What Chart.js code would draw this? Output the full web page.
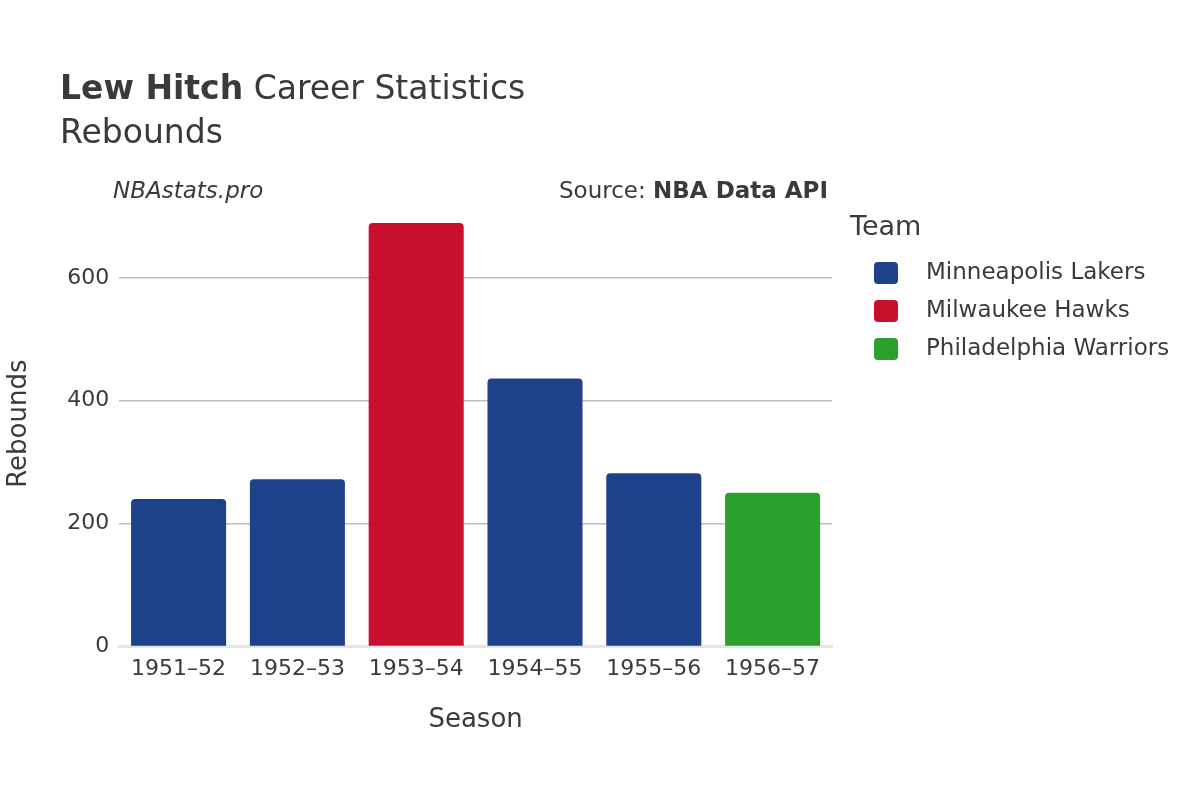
<!DOCTYPE html>
<html><head><meta charset="utf-8">
<script src="https://cdn.jsdelivr.net/npm/chart.js@4/dist/chart.umd.min.js"></script>
<style>
body{margin:0;background:#fff;font-family:"DejaVu Sans",sans-serif;color:#3a3a3a}
#wrap{position:relative;width:1200px;height:800px}
.t{position:absolute;white-space:nowrap}
.sw{display:inline-block;width:24px;height:22px;border-radius:4px;vertical-align:middle;margin-right:28px}
</style></head>
<body><div id="wrap">
<canvas id="c" width="1200" height="800"></canvas>
<div class="t" style="left:60px;top:68px;font-size:33px"><b>Lew Hitch</b> Career Statistics</div>
<div class="t" style="left:60px;top:112px;font-size:33px">Rebounds</div>
<div class="t" style="left:113px;top:177px;font-size:23px;font-style:italic">NBAstats.pro</div>
<div class="t" style="right:372px;top:177px;font-size:23px">Source: <b>NBA Data API</b></div>
<div class="t" style="left:850px;top:210px;font-size:27px">Team</div>
<div id="legend" class="t" style="left:874px;top:252px;font-size:23px;line-height:38px"></div>
</div>
<script>
// Season rebounds by team
const seasons = ['1951–52', '1952–53', '1953–54', '1954–55', '1955–56', '1956–57'];
const rebounds = [240, 272, 689, 436, 282, 250];
const teams = ['Minneapolis Lakers', 'Minneapolis Lakers', 'Milwaukee Hawks', 'Minneapolis Lakers', 'Minneapolis Lakers', 'Philadelphia Warriors'];
const teamNames = ['Minneapolis Lakers', 'Milwaukee Hawks', 'Philadelphia Warriors'];
const teamColors = ['#1d428a', '#c8102e', '#2ca02c'];

const colorOf = t => teamColors[teamNames.indexOf(t)];

document.getElementById('legend').innerHTML = teamNames.map((n, i) =>
    `<div><span class="sw" style="background:${teamColors[i]}"></span>${n}</div>`).join('');

new Chart(document.getElementById('c'), {
    type: 'bar',
    data: {
        labels: seasons,
        datasets: [{
            data: rebounds,
            backgroundColor: teams.map(colorOf),
            borderRadius: 4,
            borderSkipped: 'bottom',
            barPercentage: 0.8,
            categoryPercentage: 1
        }]
    },
    options: {
        responsive: false,
        animation: false,
        layout: { padding: { left: 0, right: 368, top: 201, bottom: 60 } },
        plugins: { legend: { display: false }, tooltip: { enabled: false } },
        scales: {
            x: {
                grid: { display: false },
                border: { color: '#e6e6e6', width: 3 },
                ticks: { color: '#3a3a3a', font: { size: 22, family: 'DejaVu Sans' }, padding: 2 },
                title: { display: true, text: 'Season', color: '#3a3a3a', font: { size: 26, family: 'DejaVu Sans' }, padding: { top: 20 } }
            },
            y: {
                min: 0, max: 725,
                afterBuildTicks: ax => { ax.ticks = [0, 200, 400, 600].map(v => ({ value: v })); },
                grid: { color: ctx => ctx.tick.value === 0 ? 'rgba(0,0,0,0)' : '#bdbdbd', lineWidth: 1.5, drawTicks: false },
                border: { display: false },
                ticks: { color: '#3a3a3a', font: { size: 22, family: 'DejaVu Sans' }, padding: 10 },
                title: { display: true, text: 'Rebounds', color: '#3a3a3a', font: { size: 26, family: 'DejaVu Sans' }, padding: { bottom: 22 } }
            }
        }
    }
});
</script>
</body></html>
